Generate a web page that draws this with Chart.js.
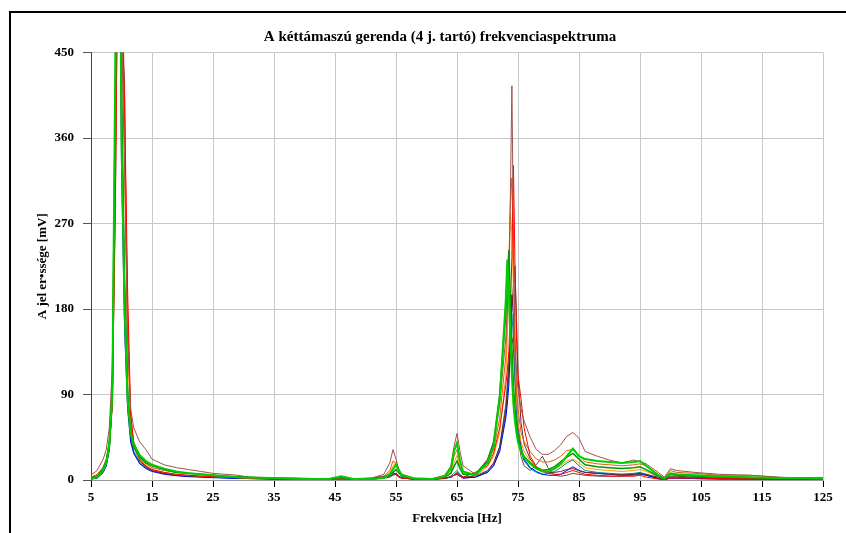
<!DOCTYPE html>
<html>
<head>
<meta charset="utf-8">
<script src="https://cdn.jsdelivr.net/npm/chart.js@4/dist/chart.umd.min.js"></script>
<style>
  html, body { margin: 0; padding: 0; background: #fff; }
  #wrap { width: 846px; height: 533px; position: relative; }
</style>
</head>
<body>
<div id="wrap"><canvas id="chart" width="846" height="533"></canvas></div>
<script>
// frequency points [Hz]
const freq = [
  5, 6, 7, 7.5, 8, 8.5, 9, 9.5, 10, 10.5, 11, 11.5, 12,
  13, 14, 15, 17, 19, 21, 23, 25, 27, 29, 31, 35, 40,
  44, 46, 48, 51, 53, 54, 54.5, 55, 55.5, 56, 58, 61, 63, 64, 64.5, 65, 65.5, 66,
  68, 70, 71, 72, 73, 73.25, 73.5, 73.75, 74, 74.25, 74.5, 74.75, 75, 75.5, 76, 77, 78, 79,
  80, 81, 82, 83, 84, 85, 86, 88, 90, 92, 94, 95, 96, 98, 99, 100, 101, 104, 108, 113, 118, 125
];

const xTicks = [5, 15, 25, 35, 45, 55, 65, 75, 85, 95, 105, 115, 125];
const yTicks = [0, 90, 180, 270, 360, 450];

const seriesNames = ['1. mérés', '2. mérés', '3. mérés', '4. mérés', '5. mérés',
  '6. mérés', '7. mérés', '8. mérés', '9. mérés', '10. mérés'];

const lime = [
  1, 3, 10, 18, 36, 90, 450, 800, 360, 180, 85, 48, 38,
  26, 20, 16, 12, 9, 7, 6, 5, 4, 3, 2.5, 2, 1,
  1, 4, 1, 1, 2, 6, 11, 16, 10, 5, 1.5, 1, 4, 12, 30, 39, 20, 9,
  5, 18, 35, 85, 190, 232, 200, 150, 110, 80, 62, 50, 40, 30, 24, 17, 12, 9,
  9, 12, 17, 25, 33, 25, 22, 20, 19, 18, 19, 20, 15, 5, 1.5, 7, 6, 5, 4, 3, 2, 2
];
const green = [
  2, 4, 12, 20, 40, 95, 420, 750, 400, 200, 90, 50, 35,
  24, 18, 15, 11, 8, 7, 6, 5, 4, 3.5, 3, 2, 1.5,
  1, 3, 1, 1, 3, 5, 8, 11, 7, 4, 1.5, 1, 3, 7, 14, 20, 12, 6,
  6, 20, 40, 90, 175, 210, 242, 190, 140, 100, 75, 58, 45, 32, 25, 18, 13, 10,
  11, 14, 19, 24, 28, 22, 16, 14, 13, 12, 13, 14, 11, 4, 1.5, 6, 5, 4, 3, 2.5, 2, 1.5
];
const brown = [
  5, 10, 22, 32, 55, 120, 380, 700, 480, 330, 150, 75, 55,
  40, 32, 22, 16, 13, 11, 9, 7, 6, 5, 3, 2, 1.5,
  1, 1.5, 1.5, 2, 6, 18, 32, 22, 10, 6, 2, 1.5, 5, 15, 35, 49, 30, 15,
  6, 22, 40, 80, 150, 180, 210, 300, 415, 260, 150, 115, 95, 75, 62, 45, 32, 27,
  27, 31, 37, 46, 50, 44, 30, 25, 21, 18, 21, 19, 17, 8, 3, 12, 10, 8, 6, 5, 3, 1
];
const red = [
  2, 4, 10, 18, 35, 80, 300, 650, 550, 400, 200, 70, 40,
  22, 15, 11, 8, 6, 5, 4, 3.5, 3, 2.5, 2, 1.5, 1,
  0.5, 1, 1, 1.5, 3, 5, 8, 6, 3, 2, 1, 1, 2, 3, 5, 6, 4, 3,
  8, 15, 28, 55, 100, 115, 135, 180, 235, 331, 230, 150, 110, 85, 55, 25, 14, 9,
  7, 6, 6, 8, 10, 8, 6, 5, 4, 4, 4, 5, 3, 1, 0.5, 2, 2, 2, 1.5, 1.5, 1, 1
];
const darkOrange = [
  3, 6, 14, 22, 40, 90, 330, 680, 520, 380, 180, 65, 40,
  25, 17, 13, 10, 8, 7, 6, 5, 4, 3.5, 2.5, 2, 1,
  1, 1, 1, 1.5, 4, 10, 20, 18, 8, 4, 1.5, 1, 4, 10, 25, 32, 18, 9,
  5, 18, 32, 65, 130, 175, 230, 290, 318, 240, 150, 100, 75, 50, 40, 30, 22, 19,
  19, 21, 25, 31, 32, 26, 19, 17, 16, 15, 16, 17, 15, 6, 2, 10, 8, 7, 5, 5, 2.5, 1
];
const orange = [
  2, 5, 12, 20, 38, 85, 320, 660, 480, 330, 140, 55, 35,
  21, 15, 11, 8, 6, 5, 4, 3.5, 3, 2.5, 2, 1.5, 1,
  0.5, 1, 1, 1.5, 3, 8, 14, 19, 10, 5, 1.5, 1, 3, 8, 18, 26, 14, 7,
  4, 14, 25, 50, 110, 150, 210, 280, 260, 200, 130, 85, 60, 40, 30, 20, 14, 11,
  11, 12, 15, 20, 22, 18, 13, 11, 10, 9, 10, 11, 9, 4, 1.5, 6, 5, 4, 3, 3, 2, 1
];
const maroon = [
  2, 4, 10, 18, 35, 80, 290, 620, 500, 360, 170, 60, 35,
  20, 14, 10, 7, 5, 4.5, 4, 3.5, 3, 2.5, 2, 1.5, 1,
  0.5, 1, 1, 1, 2, 4, 6, 7, 4, 2, 1, 1, 2, 3, 5, 8, 5, 3,
  4, 10, 18, 35, 75, 95, 120, 150, 180, 205, 225, 170, 110, 60, 38, 22, 14, 10,
  8, 8, 9, 11, 12, 10, 8, 7, 6, 6, 6, 7, 6, 3, 1, 4, 4, 3, 2, 2, 1.5, 1
];
const blue = [
  1, 2, 8, 15, 32, 85, 380, 720, 330, 160, 75, 40, 28,
  17, 12, 9, 6, 4.5, 3.5, 3, 2.5, 2, 1.5, 1.5, 1, 0.5,
  0.5, 1, 1, 2, 4, 6, 8, 6, 3, 2, 1, 1, 2, 3, 5, 6, 4, 2,
  3, 8, 15, 30, 65, 80, 100, 145, 195, 175, 125, 85, 60, 35, 22, 13, 9, 6,
  5, 5, 6, 10, 14, 10, 8, 7, 6, 5, 6, 7, 5, 1.5, 0.5, 2, 2, 1.5, 1, 1, 1, 1
];
const teal = [
  1, 2, 8, 15, 32, 85, 360, 620, 470, 420, 100, 45, 30,
  18, 13, 10, 7, 5, 4, 3.5, 3, 2.5, 2, 1.5, 1, 0.5,
  0.5, 1, 1, 1, 2, 4, 6, 7, 4, 2, 1, 0.5, 2, 4, 7, 10, 6, 3,
  3, 9, 17, 35, 80, 100, 125, 150, 175, 150, 110, 75, 50, 30, 20, 12, 8, 6,
  7, 9, 13, 18, 21, 15, 10, 8, 7, 6, 7, 8, 6, 2, 1, 3, 3, 2, 1.5, 1, 1, 0.5
];
const gray = [
  1, 3, 9, 16, 33, 85, 340, 680, 420, 220, 90, 45, 30,
  18, 13, 10, 7, 5, 4, 3.5, 3, 2.5, 2, 1.5, 1, 0.5,
  0.5, 1, 1, 1, 2, 3, 5, 6, 3, 2, 1, 0.5, 1.5, 3, 5, 7, 4, 2,
  3, 8, 15, 32, 70, 90, 110, 130, 150, 140, 105, 70, 45, 25, 15, 10, 16, 25,
  12, 5, 4, 5, 7, 6, 5, 4, 4, 4, 5, 6, 5, 1.5, 0.5, 2, 2, 1.5, 1, 1, 1, 0.5
];

const seriesValues = [lime, green, brown, red, darkOrange, orange, maroon, blue, teal, gray];
const seriesColors = ['#00cc00', '#009900', '#a0524a', '#ff0000', '#e0600a', '#ff9900',
  '#6b2a22', '#0000ff', '#008b8b', '#505050'];
const seriesWidths = [2, 1.5, 1, 1, 1, 1, 1, 1, 1, 1];

const FONT = 'Liberation Serif, Times New Roman, serif';

const framePlugin = {
  id: 'frame',
  afterLayout(chart) {
    // title sits a bit left of the plot centre in the original
    if (chart.titleBlock) {
      chart.titleBlock.left = 57;
      chart.titleBlock.width = chart.titleBlock.right - 57;
    }
  },
  beforeDraw(chart) {
    const ctx = chart.ctx;
    ctx.save();
    ctx.fillStyle = '#fff';
    ctx.fillRect(0, 0, chart.width, chart.height);
    ctx.strokeStyle = '#000';
    ctx.lineWidth = 2;
    ctx.strokeRect(10, 12, 900, 600);
    ctx.restore();
  }
};

const datasets = seriesValues.map((vals, i) => ({
  label: seriesNames[i],
  data: freq.map((f, j) => ({ x: f, y: vals[j] })),
  borderColor: seriesColors[i],
  backgroundColor: seriesColors[i],
  borderWidth: seriesWidths[i],
  pointRadius: 0,
  tension: 0,
  fill: false,
}));

new Chart(document.getElementById('chart'), {
  type: 'line',
  data: { datasets },
  options: {
    responsive: false,
    animation: false,
    layout: { padding: { left: 0, right: 23, top: 28, bottom: 0 } },
    plugins: {
      legend: { display: false },
      tooltip: { enabled: false },
      title: {
        display: true,
        text: 'A kéttámaszú gerenda (4 j. tartó) frekvenciaspektruma',
        color: '#000',
        font: { family: FONT, size: 15, weight: 'bold' },
        padding: { top: 0, bottom: 6.5 },
      },
    },
    scales: {
      x: {
        type: 'linear',
        min: 5,
        max: 125,
        afterBuildTicks: (scale) => {
          scale.ticks = xTicks.map((v) => ({ value: v }));
        },
        afterFit: (scale) => {
          scale.height = 53;
        },
        grid: { color: '#c8c8c8', tickColor: '#000', tickLength: 7 },
        border: { color: '#999' },
        ticks: {
          color: '#000',
          padding: 3,
          maxRotation: 0,
          font: { family: FONT, size: 13, weight: 'bold' },
        },
        title: {
          display: true,
          text: 'Frekvencia [Hz]',
          color: '#000',
          font: { family: FONT, size: 13, weight: 'bold' },
          padding: { top: 0, bottom: 7 },
        },
      },
      y: {
        min: 0,
        max: 450,
        afterBuildTicks: (scale) => {
          scale.ticks = yTicks.map((v) => ({ value: v }));
        },
        afterFit: (scale) => {
          scale.width = 91;
        },
        grid: { color: '#c8c8c8', tickColor: '#555', tickLength: 8 },
        border: { color: '#444' },
        ticks: {
          color: '#000',
          padding: 9,
          font: { family: FONT, size: 13, weight: 'bold' },
        },
        title: {
          display: true,
          text: 'A jel er•ssége [mV]',
          color: '#000',
          font: { family: FONT, size: 13, weight: 'bold' },
          padding: { top: 35, bottom: 0 },
        },
      },
    },
  },
  plugins: [framePlugin],
});
</script>
</body>
</html>
